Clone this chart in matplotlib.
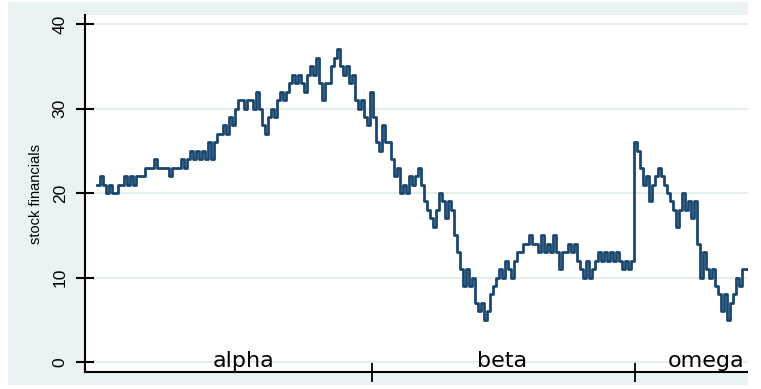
import matplotlib
matplotlib.use("Agg")
import matplotlib.pyplot as plt
import matplotlib.transforms as mtransforms
from matplotlib import font_manager as fm
from matplotlib.patches import Rectangle
import numpy as np

# ---- data ----
values = [
    21, 22, 21, 20, 21, 20, 20, 21, 21, 22,
    21, 22, 21, 22, 22, 22, 23, 23, 23, 24,
    23, 23, 23, 23, 22, 23, 23, 23, 24, 23,
    24, 25, 24, 25, 24, 25, 24, 26, 24, 26,
    27, 27, 28, 27, 29, 28, 30, 31, 31, 30,
    31, 31, 30, 32, 30, 28, 27, 29, 30, 29,
    31, 32, 31, 32, 33, 34, 33, 34, 33, 32,
    34, 35, 34, 36, 33, 31, 33, 33, 35, 36,
    37, 35, 34, 35, 33, 34, 31, 30, 31, 29,
    28, 32, 29, 26, 25, 28, 26, 26, 24, 22,
    23, 20, 21, 20, 22, 21, 22, 23, 21, 19,
    18, 17, 16, 18, 20, 19, 17, 19, 18, 15,
    13, 11, 9, 11, 9, 10, 7, 6, 7, 5,
    6, 8, 9, 10, 11, 10, 12, 11, 10, 12,
    13, 13, 14, 14, 15, 14, 14, 13, 15, 13,
    14, 13, 15, 13, 11, 13, 13, 14, 13, 14,
    12, 11, 10, 12, 10, 11, 12, 13, 12, 13,
    12, 13, 12, 13, 12, 11, 12, 11, 12, 26,
    25, 23, 21, 22, 19, 21, 22, 23, 22, 21,
    20, 19, 18, 16, 18, 20, 18, 19, 17, 19,
    14, 10, 13, 11, 10, 11, 9, 8, 6, 8,
    5, 7, 8, 10, 9, 11, 11, 11,
]
days = np.arange(len(values))
categories = ["alpha", "beta", "omega"]
category_label_pos = [49.0, 135.0, 203.0]
category_bounds = [91.7, 179.3]
y_ticks = [0, 10, 20, 30, 40]
y_label = "stock financials"

# ---- styling ----
W, H = 761, 389
BG = "#EAF2F3"
LINE = "#1A476F"

def have(name):
    try:
        fm.findfont(fm.FontProperties(family=name), fallback_to_default=False)
        return True
    except Exception:
        return False

if have("Liberation Sans Narrow"):
    narrow = ["Liberation Sans Narrow", "DejaVu Sans"]
    tick_fs, lab_fs = 13, 12.2
else:
    narrow = ["Liberation Sans", "DejaVu Sans"]
    tick_fs, lab_fs = 12.5, 10.5

fig = plt.figure(figsize=(W / 100, H / 100), dpi=100)
fig.patch.set_facecolor("white")
fig.add_artist(Rectangle((8 / W, (H - 385) / H), (748 - 8) / W, (385 - 2) / H,
                         transform=fig.transFigure, facecolor=BG,
                         edgecolor="none", zorder=-5))

ax_left, ax_right, ax_top, ax_bot = 85, 761, 15, 372
ax = fig.add_axes([ax_left / W, (H - ax_bot) / H,
                   (ax_right - ax_left) / W, (ax_bot - ax_top) / H])
ax.set_facecolor("white")

ax.step(days, values, where="post", color=LINE, lw=2.0, zorder=3)

ax.set_xlim(-4, (761 - 97) / 3)
ax.set_ylim(-10 / 8.45, 40 + 9 / 8.45)

ax.set_yticks(y_ticks)
ax.set_yticklabels([str(v) for v in y_ticks], rotation=90, va="center",
                   family=narrow, fontsize=tick_fs)
ax.grid(axis="y", color="#E4ECEE", lw=1.3, zorder=1)
ax.tick_params(axis="y", direction="inout", length=13, width=1.5, pad=6,
               color="black")

ax.set_xticks(category_bounds)
ax.set_xticklabels([])
ax.tick_params(axis="x", direction="inout", length=14, width=1.3,
               color="black")

tr = mtransforms.blended_transform_factory(ax.transData, ax.transAxes)
for lab, pos in zip(categories, category_label_pos):
    ax.text(pos, 0.004, lab, transform=tr, ha="center", va="bottom",
            fontsize=16, family="DejaVu Sans", color="black", zorder=4)

for s in ["top", "right"]:
    ax.spines[s].set_visible(False)
for s in ["left", "bottom"]:
    ax.spines[s].set_linewidth(1.5)
    ax.spines[s].set_color("black")

ax.set_ylabel(y_label, family=narrow, fontsize=lab_fs)
ax.yaxis.set_label_coords((43 - ax_left) / (ax_right - ax_left), 0.5)

# the reference is cut off at the right edge
fig.add_artist(Rectangle((748 / W, 0), (W - 748) / W, 1,
                         transform=fig.transFigure, facecolor="white",
                         edgecolor="none", zorder=20))

fig.savefig("out.png", dpi=100, facecolor=fig.get_facecolor())
